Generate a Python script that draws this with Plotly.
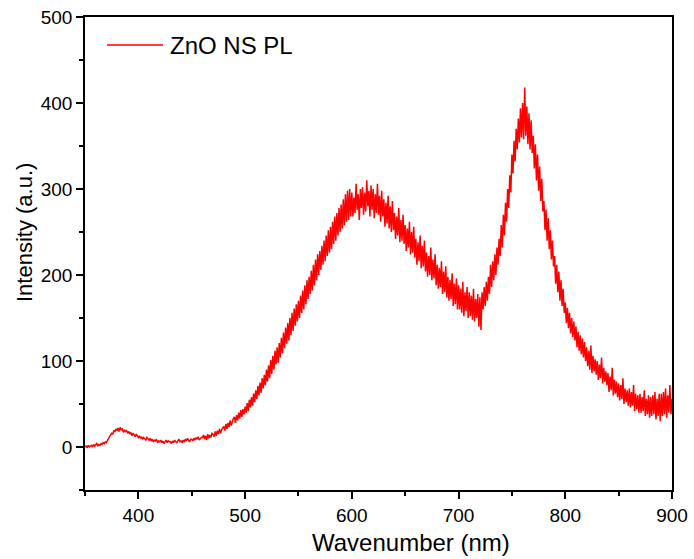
import plotly.graph_objects as go

# Wavelength grid (nm), 1 nm steps
wavelength = list(range(350, 901))

# PL intensity (a.u.), one value per nm (10 per row)
intensity = [
    0, 1, -1, 2, 0, 1, 2, 0, 3, 1,                 # 350
    2, 4, 1, 3, 2, 4, 3, 5, 4, 6,                  # 360
    5, 8, 10, 12, 14, 16, 15, 19, 18, 21,          # 370
    19, 22, 18, 23, 20, 21, 17, 20, 18, 19,        # 380
    16, 18, 15, 17, 13, 16, 14, 12, 15, 13,        # 390
    11, 13, 10, 12, 9, 11, 10, 8, 11, 9,           # 400
    8, 10, 7, 9, 6, 8, 7, 9, 5, 7,                 # 410
    6, 8, 5, 7, 4, 6, 8, 5, 7, 6,                  # 420
    6, 4, 7, 5, 8, 6, 5, 7, 9, 6,                  # 430
    7, 5, 8, 6, 9, 7, 10, 8, 6, 9,                 # 440
    9, 7, 10, 8, 11, 9, 12, 8, 10, 11,             # 450
    11, 14, 9, 13, 8, 15, 10, 14, 11, 16,          # 460
    15, 12, 18, 13, 19, 15, 21, 16, 20, 23,        # 470
    24, 19, 27, 21, 28, 23, 31, 25, 30, 33,        # 480
    35, 28, 37, 31, 40, 33, 43, 35, 44, 38,        # 490
    47, 40, 51, 42, 55, 46, 58, 48, 62, 52,        # 500
    66, 56, 71, 60, 75, 63, 80, 68, 84, 72,        # 510
    90, 76, 95, 80, 101, 85, 106, 90, 112, 96,     # 520
    116, 98, 121, 104, 127, 109, 133, 115, 139, 120,   # 530
    144, 124, 150, 130, 156, 135, 161, 141, 166, 146,  # 540
    170, 150, 176, 156, 182, 160, 188, 166, 194, 172,  # 550
    198, 178, 205, 182, 212, 188, 218, 194, 224, 200,  # 560
    228, 206, 234, 212, 240, 216, 246, 222, 252, 226,  # 570
    256, 230, 262, 236, 268, 240, 272, 246, 278, 250,  # 580
    282, 254, 288, 258, 294, 262, 298, 264, 300, 268,  # 590
    296, 268, 290, 272, 306, 276, 294, 264, 300, 278,  # 600
    302, 270, 296, 274, 310, 280, 298, 268, 304, 276,  # 610
    300, 266, 294, 272, 306, 270, 292, 262, 298, 268,  # 620
    288, 256, 284, 260, 292, 254, 280, 250, 286, 252,  # 630
    272, 242, 268, 246, 278, 238, 264, 240, 270, 236,  # 640
    258, 228, 254, 232, 262, 224, 250, 226, 256, 220,  # 650
    242, 212, 238, 216, 246, 208, 234, 210, 240, 204,  # 660
    226, 198, 222, 200, 232, 194, 218, 196, 224, 188,  # 670
    212, 184, 208, 186, 216, 178, 204, 180, 210, 174,  # 680
    198, 170, 194, 172, 202, 164, 190, 166, 196, 160,  # 690
    188, 160, 184, 156, 192, 152, 180, 158, 186, 150,  # 700
    180, 152, 176, 148, 184, 146, 172, 150, 178, 140,  # 710
    174, 136, 180, 160, 186, 164, 192, 170, 198, 178,  # 720
    212, 186, 216, 194, 224, 200, 232, 212, 242, 222,  # 730
    258, 232, 270, 246, 284, 262, 300, 278, 316, 296,  # 740
    340, 318, 356, 332, 370, 346, 382, 354, 394, 360,  # 750
    400, 358, 418, 362, 396, 352, 388, 346, 380, 342,  # 760
    362, 324, 352, 310, 340, 298, 326, 286, 312, 274,  # 770
    286, 252, 276, 240, 266, 230, 252, 218, 240, 210,  # 780
    222, 190, 212, 180, 204, 170, 194, 164, 184, 156,  # 790
    168, 144, 162, 138, 156, 132, 150, 128, 146, 124,  # 800
    140, 116, 134, 112, 130, 108, 126, 104, 122, 100,  # 810
    116, 94, 112, 90, 118, 86, 106, 88, 102, 84,       # 820
    100, 78, 96, 80, 104, 74, 92, 76, 88, 72,          # 830
    86, 64, 82, 66, 92, 60, 78, 62, 76, 58,            # 840
    74, 54, 72, 56, 80, 50, 68, 52, 66, 48,            # 850
    68, 46, 64, 48, 72, 42, 62, 44, 60, 40,            # 860
    62, 40, 58, 42, 66, 36, 56, 38, 60, 34,            # 870
    58, 36, 60, 38, 64, 32, 56, 36, 62, 30,            # 880
    62, 36, 64, 38, 68, 34, 60, 40, 72, 38,            # 890
    56,                                                # 900
]

series_name = "ZnO NS PL"
x_ticks = [400, 500, 600, 700, 800, 900]
y_ticks = [0, 100, 200, 300, 400, 500]

FONT = "Liberation Sans, Arial, sans-serif"
RED = "#ff0000"

fig = go.Figure()
fig.add_trace(go.Scatter(
    x=wavelength, y=intensity, mode="lines", name=series_name,
    line=dict(color=RED, width=1.5), showlegend=False,
))

axis_common = dict(
    showline=True, linecolor="black", linewidth=1.5, mirror=True,
    ticks="outside", ticklen=7, tickwidth=1.5, tickcolor="black",
    showgrid=False, zeroline=False,
    tickfont=dict(family=FONT, size=19, color="black"),
)

fig.update_xaxes(
    range=[350, 900], tickvals=x_ticks,
    minor=dict(dtick=50, tick0=350, ticks="outside", ticklen=4,
               tickwidth=1.5, tickcolor="black", showgrid=False),
    **axis_common,
)
fig.update_yaxes(
    range=[-50, 500], tickvals=y_ticks,
    minor=dict(dtick=50, tick0=-50, ticks="outside", ticklen=4,
               tickwidth=1.5, tickcolor="black", showgrid=False),
    **axis_common,
)

PL_L, PL_R, PL_T, PL_B = 85, 672, 17, 490
PW, PH = PL_R - PL_L, PL_B - PL_T

def px(x):
    return (x - PL_L) / PW

def py(y):
    return (PL_B - y) / PH

# Legend sample (line + label)
fig.add_shape(type="line", xref="paper", yref="paper",
              x0=px(107), x1=px(163), y0=py(45), y1=py(45),
              line=dict(color=RED, width=1.5))
fig.add_annotation(text=series_name, xref="paper", yref="paper",
                   x=px(168), y=py(45), xanchor="left", yanchor="middle",
                   showarrow=False, font=dict(family=FONT, size=24, color="black"))

# Axis titles
fig.add_annotation(text="Wavenumber (nm)", xref="paper", yref="paper",
                   x=px(411), y=py(542),
                   xanchor="center", yanchor="middle", showarrow=False,
                   font=dict(family=FONT, size=24, color="black"))
fig.add_annotation(text="Intensity (a.u.)", xref="paper", yref="paper",
                   x=px(25), y=py(233), textangle=-90,
                   xanchor="center", yanchor="middle", showarrow=False,
                   font=dict(family=FONT, size=22, color="black"))

fig.update_layout(
    width=694, height=559,
    margin=dict(l=PL_L, r=694 - PL_R, t=PL_T, b=559 - PL_B, autoexpand=False),
    paper_bgcolor="white", plot_bgcolor="white",
    font=dict(family=FONT, color="black"),
)

fig.write_html("out.html", config={"displayModeBar": False},
               post_script="document.body.style.margin='0';")
